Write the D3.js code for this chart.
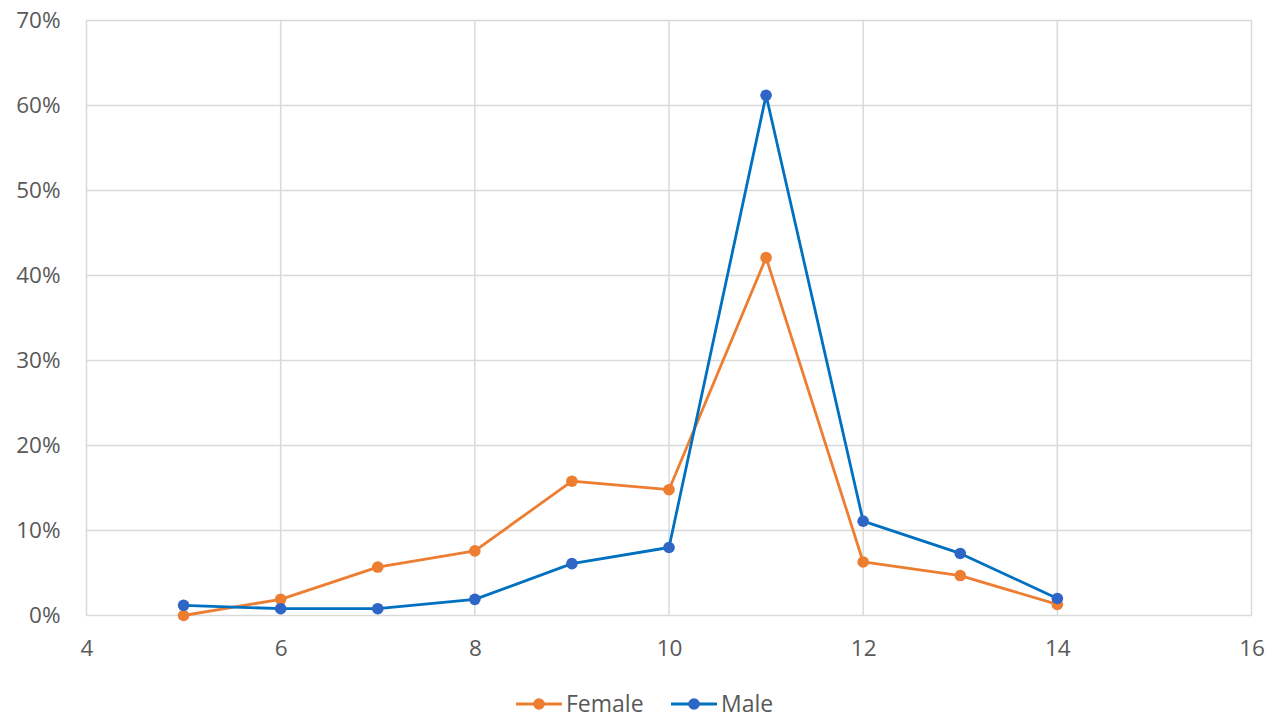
<!DOCTYPE html>
<html>
<head>
<meta charset="utf-8">
<script src="https://cdn.jsdelivr.net/npm/d3@7"></script>
<style>
  html, body { margin: 0; padding: 0; background: #fff; }
  svg { display: block; }
  text { font-family: "Open Sans", "Liberation Sans", sans-serif; fill: #595959; }
</style>
</head>
<body>
<svg id="chart" width="1268" height="720"></svg>
<script>
// Share of respondents by age, per gender
const ages = [5, 6, 7, 8, 9, 10, 11, 12, 13, 14];
const female = [0.000, 0.019, 0.057, 0.076, 0.158, 0.148, 0.421, 0.063, 0.047, 0.013];
const male   = [0.012, 0.008, 0.008, 0.019, 0.061, 0.080, 0.612, 0.111, 0.073, 0.020];
const xTicks = [4, 6, 8, 10, 12, 14, 16];
const yTicks = [0, 0.1, 0.2, 0.3, 0.4, 0.5, 0.6, 0.7];

const seriesList = [
  { name: "Female", values: female, line: "#ED7D31", marker: "#ED7D31" },
  { name: "Male",   values: male,   line: "#0070C0", marker: "#2F66C6" }
];

const svg = d3.select("#chart");
const plotLeft = 86.5, plotRight = 1251.5, plotTop = 20.5, plotBottom = 615.5;

const x = d3.scaleLinear().domain([4, 16]).range([plotLeft, plotRight]);
const y = d3.scaleLinear().domain([0, 0.7]).range([plotBottom, plotTop]);

// Gridlines
const grid = svg.append("g");
grid.selectAll("line.h").data(yTicks).join("line")
  .attr("x1", plotLeft).attr("x2", plotRight)
  .attr("y1", d => y(d)).attr("y2", d => y(d))
  .attr("stroke", "#D9D9D9").attr("stroke-width", 1.5);
grid.selectAll("line.v").data(xTicks).join("line")
  .attr("x1", d => x(d)).attr("x2", d => x(d))
  .attr("y1", plotTop).attr("y2", plotBottom)
  .attr("stroke", "#D9D9D9").attr("stroke-width", 1.5);

// Axes (labels only)
const yAxis = svg.append("g").attr("transform", `translate(${plotLeft},0)`)
  .call(d3.axisLeft(y).tickValues(yTicks).tickFormat(d3.format(".0%")).tickSize(0).tickPadding(26));
yAxis.select(".domain").remove();
yAxis.selectAll("text").style("font-size", "22.5px").attr("fill", "#595959");

const xAxis = svg.append("g").attr("transform", `translate(0,${plotBottom})`)
  .call(d3.axisBottom(x).tickValues(xTicks).tickFormat(d3.format("d")).tickSize(0).tickPadding(25));
xAxis.select(".domain").remove();
xAxis.selectAll("text").style("font-size", "22.5px").attr("fill", "#595959");

// Lines and markers
const lineGen = d3.line().x((d, i) => x(ages[i])).y(d => y(d));
seriesList.forEach(s => {
  svg.append("path").datum(s.values)
    .attr("d", lineGen)
    .attr("fill", "none").attr("stroke", s.line)
    .attr("stroke-width", 2.8).attr("stroke-linejoin", "round");
  svg.append("g").selectAll("circle").data(s.values).join("circle")
    .attr("cx", (d, i) => x(ages[i])).attr("cy", d => y(d))
    .attr("r", 5.8).attr("fill", s.marker);
});

// Legend
const legend = svg.append("g").attr("transform", "translate(0,704)");
const legendX = [516, 671];
seriesList.forEach((s, i) => {
  const g = legend.append("g").attr("transform", `translate(${legendX[i]},0)`);
  g.append("line").attr("x1", 0).attr("x2", 46).attr("y1", 0).attr("y2", 0)
    .attr("stroke", s.line).attr("stroke-width", 2.8);
  g.append("circle").attr("cx", 23).attr("cy", 0).attr("r", 5.8).attr("fill", s.marker);
  g.append("text").attr("x", 50).attr("y", 0).attr("dy", "0.36em")
    .style("font-size", "23px").text(s.name);
});
</script>
</body>
</html>
